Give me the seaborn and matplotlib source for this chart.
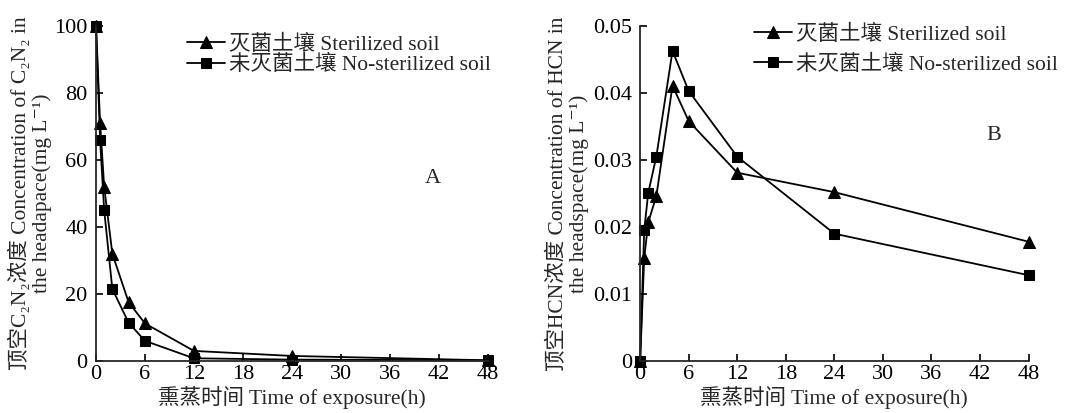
import matplotlib
matplotlib.use("Agg")
import matplotlib.pyplot as plt
import seaborn as sns
import pandas as pd

# Data
time_h = [0, 0.5, 1, 2, 4, 6, 12, 24, 48]
c2n2_sterilized = [100, 71, 52, 32, 17.5, 11.2, 3.0, 1.5, 0.2]
c2n2_nonsterilized = [100, 66, 45, 21.5, 11.4, 6.0, 0.8, 0.4, 0.2]
hcn_sterilized = [0, 0.0153, 0.0207, 0.0246, 0.0411, 0.0358, 0.0281, 0.0252, 0.0178]
hcn_nonsterilized = [0, 0.0195, 0.0251, 0.0305, 0.0463, 0.0403, 0.0305, 0.0190, 0.0128]
x_ticks = [0, 6, 12, 18, 24, 30, 36, 42, 48]
yticks_a = [0, 20, 40, 60, 80, 100]
yticks_b = [0, 0.01, 0.02, 0.03, 0.04, 0.05]
yticklabels_b = ["0", "0.01", "0.02", "0.03", "0.04", "0.05"]
label_st = "灭菌土壤 Sterilized soil"
label_ns = "未灭菌土壤 No-sterilized soil"
xlabel = "熏蒸时间 Time of exposure(h)"
ylabel_a = "顶空C₂N₂浓度 Concentration of C₂N₂ in\nthe headapace(mg L⁻¹)"
ylabel_b = "顶空HCN浓度 Concentration of HCN in\nthe headspace(mg L⁻¹)"

sns.set_theme(style="ticks")
plt.rcParams["font.family"] = ["Liberation Serif", "DejaVu Serif", "Noto Sans CJK SC"]
plt.rcParams["axes.linewidth"] = 1.3

fig = plt.figure(figsize=(10.85, 4.13), dpi=100)
axA = fig.add_axes([0.0885, 0.126, 0.361, 0.811])
axB = fig.add_axes([0.590, 0.126, 0.358, 0.811])

dfA = pd.DataFrame({"t": time_h, "st": c2n2_sterilized, "ns": c2n2_nonsterilized})
dfB = pd.DataFrame({"t": time_h, "st": hcn_sterilized, "ns": hcn_nonsterilized})

for ax, df in [(axA, dfA), (axB, dfB)]:
    sns.lineplot(data=df, x="t", y="st", ax=ax, color="black", marker="^",
                 markersize=8.5, linewidth=1.3, markeredgecolor="black",
                 label=label_st, clip_on=False)
    sns.lineplot(data=df, x="t", y="ns", ax=ax, color="black", marker="s",
                 markersize=7, linewidth=1.3, markeredgecolor="black",
                 label=label_ns, clip_on=False)
    ax.set_xlim(0, 48)
    ax.set_xticks(x_ticks)
    ax.tick_params(direction="in", length=5, width=1.2, labelsize=16, pad=3, colors="black")
    ax.tick_params(axis="y", pad=6)
    ax.set_xlabel(xlabel, fontsize=15.5, labelpad=1)
    sns.despine(ax=ax)

axA.set_ylim(0, 100)
axA.set_yticks(yticks_a)
axA.set_ylabel(ylabel_a, fontsize=15.5, labelpad=2, linespacing=1.05)
axA.text(41.3, 54.6, "A", fontsize=16, ha="center", va="center")
axA.legend(loc="upper left", bbox_to_anchor=(0.21, 1.0), frameon=False,
           fontsize=15.5, handlelength=1.75, handletextpad=0.2, labelspacing=0.0,
           borderaxespad=0)

axB.set_ylim(0, 0.05)
axB.set_yticks(yticks_b)
axB.set_yticklabels(yticklabels_b)
axB.set_ylabel(ylabel_b, fontsize=15.5, labelpad=3, linespacing=1.05)
axB.text(43.7, 0.0337, "B", fontsize=16, ha="center", va="center")
axB.legend(loc="upper left", bbox_to_anchor=(0.272, 1.03), frameon=False,
           fontsize=15.5, handlelength=1.75, handletextpad=0.2, labelspacing=0.45,
           borderaxespad=0)

fig.savefig("out.png", dpi=100, facecolor="white")
